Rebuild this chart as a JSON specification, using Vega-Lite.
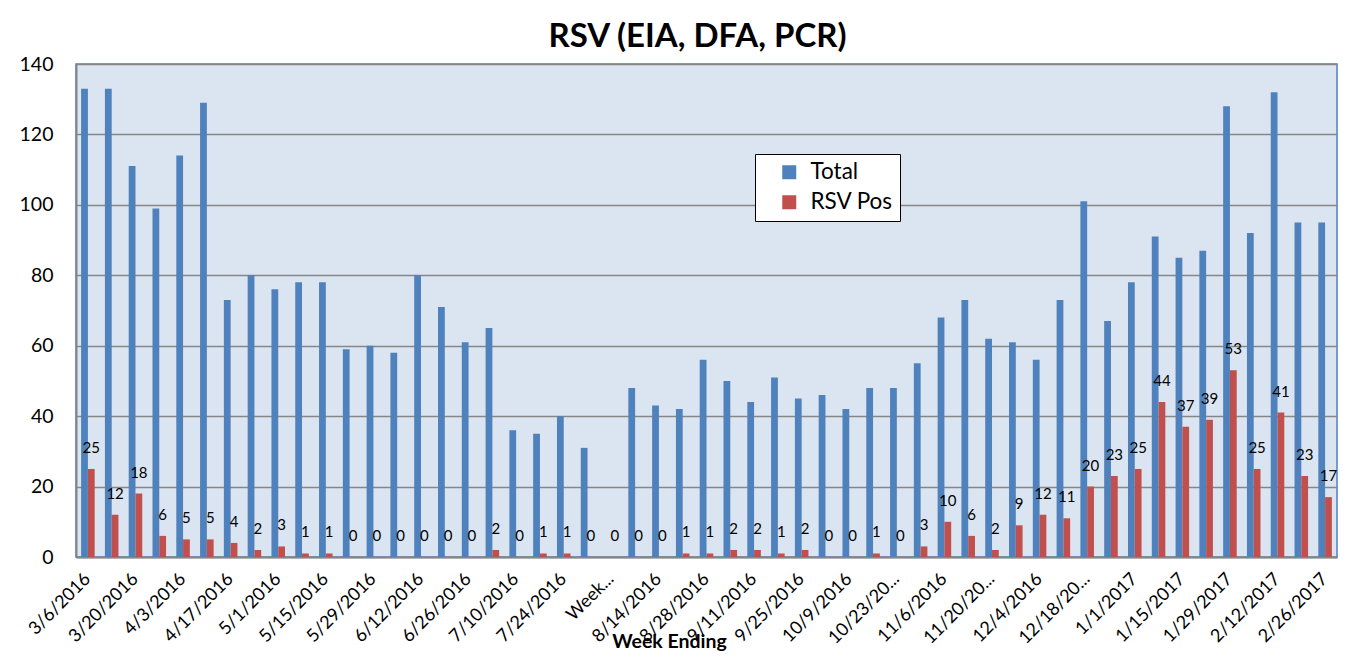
{
  "$schema": "https://vega.github.io/schema/vega-lite/v6.json",
  "autosize": {"type": "none"},
  "padding": {"left": 76, "top": 64, "right": 26, "bottom": 103},
  "width": 1261,
  "height": 493,
  "background": "white",
  "title": {
    "text": "RSV (EIA, DFA, PCR)",
    "font": "Lato",
    "fontSize": 33,
    "fontWeight": "bold",
    "color": "black",
    "anchor": "middle",
    "baseline": "alphabetic",
    "dx": -9,
    "offset": -26
  },
  "config": {
    "view": {"stroke": "#4F81BD", "strokeWidth": 1.5, "fill": "#DBE5F1"},
    "font": "Lato"
  },
  "datasets": {
    "rsv": [
      {"week": "3/6/2016", "series": "Total", "count": 133},
      {"week": "3/6/2016", "series": "RSV Pos", "count": 25},
      {"week": "3/13/2016", "series": "Total", "count": 133},
      {"week": "3/13/2016", "series": "RSV Pos", "count": 12},
      {"week": "3/20/2016", "series": "Total", "count": 111},
      {"week": "3/20/2016", "series": "RSV Pos", "count": 18},
      {"week": "3/27/2016", "series": "Total", "count": 99},
      {"week": "3/27/2016", "series": "RSV Pos", "count": 6},
      {"week": "4/3/2016", "series": "Total", "count": 114},
      {"week": "4/3/2016", "series": "RSV Pos", "count": 5},
      {"week": "4/10/2016", "series": "Total", "count": 129},
      {"week": "4/10/2016", "series": "RSV Pos", "count": 5},
      {"week": "4/17/2016", "series": "Total", "count": 73},
      {"week": "4/17/2016", "series": "RSV Pos", "count": 4},
      {"week": "4/24/2016", "series": "Total", "count": 80},
      {"week": "4/24/2016", "series": "RSV Pos", "count": 2},
      {"week": "5/1/2016", "series": "Total", "count": 76},
      {"week": "5/1/2016", "series": "RSV Pos", "count": 3},
      {"week": "5/8/2016", "series": "Total", "count": 78},
      {"week": "5/8/2016", "series": "RSV Pos", "count": 1},
      {"week": "5/15/2016", "series": "Total", "count": 78},
      {"week": "5/15/2016", "series": "RSV Pos", "count": 1},
      {"week": "5/22/2016", "series": "Total", "count": 59},
      {"week": "5/22/2016", "series": "RSV Pos", "count": 0},
      {"week": "5/29/2016", "series": "Total", "count": 60},
      {"week": "5/29/2016", "series": "RSV Pos", "count": 0},
      {"week": "6/5/2016", "series": "Total", "count": 58},
      {"week": "6/5/2016", "series": "RSV Pos", "count": 0},
      {"week": "6/12/2016", "series": "Total", "count": 80},
      {"week": "6/12/2016", "series": "RSV Pos", "count": 0},
      {"week": "6/19/2016", "series": "Total", "count": 71},
      {"week": "6/19/2016", "series": "RSV Pos", "count": 0},
      {"week": "6/26/2016", "series": "Total", "count": 61},
      {"week": "6/26/2016", "series": "RSV Pos", "count": 0},
      {"week": "7/3/2016", "series": "Total", "count": 65},
      {"week": "7/3/2016", "series": "RSV Pos", "count": 2},
      {"week": "7/10/2016", "series": "Total", "count": 36},
      {"week": "7/10/2016", "series": "RSV Pos", "count": 0},
      {"week": "7/17/2016", "series": "Total", "count": 35},
      {"week": "7/17/2016", "series": "RSV Pos", "count": 1},
      {"week": "7/24/2016", "series": "Total", "count": 40},
      {"week": "7/24/2016", "series": "RSV Pos", "count": 1},
      {"week": "7/31/2016", "series": "Total", "count": 31},
      {"week": "7/31/2016", "series": "RSV Pos", "count": 0},
      {"week": "Week...", "series": "Total", "count": null},
      {"week": "Week...", "series": "RSV Pos", "count": 0},
      {"week": "8/7/2016", "series": "Total", "count": 48},
      {"week": "8/7/2016", "series": "RSV Pos", "count": 0},
      {"week": "8/14/2016", "series": "Total", "count": 43},
      {"week": "8/14/2016", "series": "RSV Pos", "count": 0},
      {"week": "8/21/2016", "series": "Total", "count": 42},
      {"week": "8/21/2016", "series": "RSV Pos", "count": 1},
      {"week": "8/28/2016", "series": "Total", "count": 56},
      {"week": "8/28/2016", "series": "RSV Pos", "count": 1},
      {"week": "9/4/2016", "series": "Total", "count": 50},
      {"week": "9/4/2016", "series": "RSV Pos", "count": 2},
      {"week": "9/11/2016", "series": "Total", "count": 44},
      {"week": "9/11/2016", "series": "RSV Pos", "count": 2},
      {"week": "9/18/2016", "series": "Total", "count": 51},
      {"week": "9/18/2016", "series": "RSV Pos", "count": 1},
      {"week": "9/25/2016", "series": "Total", "count": 45},
      {"week": "9/25/2016", "series": "RSV Pos", "count": 2},
      {"week": "10/2/2016", "series": "Total", "count": 46},
      {"week": "10/2/2016", "series": "RSV Pos", "count": 0},
      {"week": "10/9/2016", "series": "Total", "count": 42},
      {"week": "10/9/2016", "series": "RSV Pos", "count": 0},
      {"week": "10/16/2016", "series": "Total", "count": 48},
      {"week": "10/16/2016", "series": "RSV Pos", "count": 1},
      {"week": "10/23/2016", "series": "Total", "count": 48},
      {"week": "10/23/2016", "series": "RSV Pos", "count": 0},
      {"week": "10/30/2016", "series": "Total", "count": 55},
      {"week": "10/30/2016", "series": "RSV Pos", "count": 3},
      {"week": "11/6/2016", "series": "Total", "count": 68},
      {"week": "11/6/2016", "series": "RSV Pos", "count": 10},
      {"week": "11/13/2016", "series": "Total", "count": 73},
      {"week": "11/13/2016", "series": "RSV Pos", "count": 6},
      {"week": "11/20/2016", "series": "Total", "count": 62},
      {"week": "11/20/2016", "series": "RSV Pos", "count": 2},
      {"week": "11/27/2016", "series": "Total", "count": 61},
      {"week": "11/27/2016", "series": "RSV Pos", "count": 9},
      {"week": "12/4/2016", "series": "Total", "count": 56},
      {"week": "12/4/2016", "series": "RSV Pos", "count": 12},
      {"week": "12/11/2016", "series": "Total", "count": 73},
      {"week": "12/11/2016", "series": "RSV Pos", "count": 11},
      {"week": "12/18/2016", "series": "Total", "count": 101},
      {"week": "12/18/2016", "series": "RSV Pos", "count": 20},
      {"week": "12/25/2016", "series": "Total", "count": 67},
      {"week": "12/25/2016", "series": "RSV Pos", "count": 23},
      {"week": "1/1/2017", "series": "Total", "count": 78},
      {"week": "1/1/2017", "series": "RSV Pos", "count": 25},
      {"week": "1/8/2017", "series": "Total", "count": 91},
      {"week": "1/8/2017", "series": "RSV Pos", "count": 44},
      {"week": "1/15/2017", "series": "Total", "count": 85},
      {"week": "1/15/2017", "series": "RSV Pos", "count": 37},
      {"week": "1/22/2017", "series": "Total", "count": 87},
      {"week": "1/22/2017", "series": "RSV Pos", "count": 39},
      {"week": "1/29/2017", "series": "Total", "count": 128},
      {"week": "1/29/2017", "series": "RSV Pos", "count": 53},
      {"week": "2/5/2017", "series": "Total", "count": 92},
      {"week": "2/5/2017", "series": "RSV Pos", "count": 25},
      {"week": "2/12/2017", "series": "Total", "count": 132},
      {"week": "2/12/2017", "series": "RSV Pos", "count": 41},
      {"week": "2/19/2017", "series": "Total", "count": 95},
      {"week": "2/19/2017", "series": "RSV Pos", "count": 23},
      {"week": "2/26/2017", "series": "Total", "count": 95},
      {"week": "2/26/2017", "series": "RSV Pos", "count": 17}
    ]
  },
  "data": {"name": "rsv"},
  "encoding": {
    "x": {
      "field": "week",
      "type": "nominal",
      "sort": null,
      "scale": {"paddingInner": 0.43, "paddingOuter": 0.215},
      "axis": {
        "title": "Week Ending",
        "titleFont": "Lato",
        "titleFontSize": 19.5,
        "titleFontWeight": "bold",
        "titleColor": "black",
        "titleX": 593,
        "titleY": 90,
        "titleBaseline": "alphabetic",
        "titleAnchor": "middle",
        "titleAlign": "center",
        "values": ["3/6/2016", "3/20/2016", "4/3/2016", "4/17/2016", "5/1/2016", "5/15/2016", "5/29/2016", "6/12/2016", "6/26/2016", "7/10/2016", "7/24/2016", "Week...", "8/14/2016", "8/28/2016", "9/11/2016", "9/25/2016", "10/9/2016", "10/23/2016", "11/6/2016", "11/20/2016", "12/4/2016", "12/18/2016", "1/1/2017", "1/15/2017", "1/29/2017", "2/12/2017", "2/26/2017"],
        "labelExpr": "length(datum.label) >= 10 ? slice(datum.label, 0, 8) + '...' : datum.label",
        "labelAngle": -45,
        "labelAlign": "right",
        "labelBaseline": "middle",
        "labelFont": "Lato",
        "labelFontSize": 18,
        "labelColor": "black",
        "labelPadding": 19,
        "ticks": false,
        "domainColor": "#868686",
        "domainWidth": 2,
        "grid": false,
        "labelOverlap": false
      }
    },
    "xOffset": {
      "field": "series",
      "type": "nominal",
      "scale": {"domain": ["Total", "RSV Pos"]}
    }
  },
  "layer": [
    {
      "mark": {"type": "bar"},
      "encoding": {
        "y": {
          "field": "count",
          "type": "quantitative",
          "scale": {"domain": [0, 140], "nice": false},
          "axis": {
            "title": null,
            "values": [0, 20, 40, 60, 80, 100, 120, 140],
            "labelFont": "Lato",
            "labelFontSize": 19.5,
            "labelColor": "black",
            "labelPadding": 23,
            "ticks": false,
            "domainColor": "#868686",
            "domainWidth": 2,
            "gridColor": "#868686",
            "gridWidth": 1.5
          }
        },
        "color": {
          "field": "series",
          "type": "nominal",
          "scale": {"domain": ["Total", "RSV Pos"], "range": ["#4F81BD", "#C0504D"]},
          "legend": {
            "title": null,
            "orient": "none",
            "legendX": 679,
            "legendY": 90,
            "fillColor": "white",
            "strokeColor": "black",
            "padding": 7,
            "symbolType": "square",
            "symbolSize": 196,
            "symbolStrokeWidth": 0,
            "symbolOffset": 16,
            "labelFont": "Lato",
            "labelFontSize": 22.5,
            "labelColor": "black",
            "labelOffset": 10,
            "rowPadding": 7
          }
        }
      }
    },
    {
      "transform": [{"filter": "datum.series === 'RSV Pos'"}],
      "mark": {
        "type": "text",
        "font": "Lato",
        "fontSize": 15,
        "color": "black",
        "baseline": "alphabetic",
        "align": "center",
        "dy": -16
      },
      "encoding": {
        "y": {"field": "count", "type": "quantitative"},
        "text": {"field": "count", "type": "quantitative"}
      }
    }
  ]
}
